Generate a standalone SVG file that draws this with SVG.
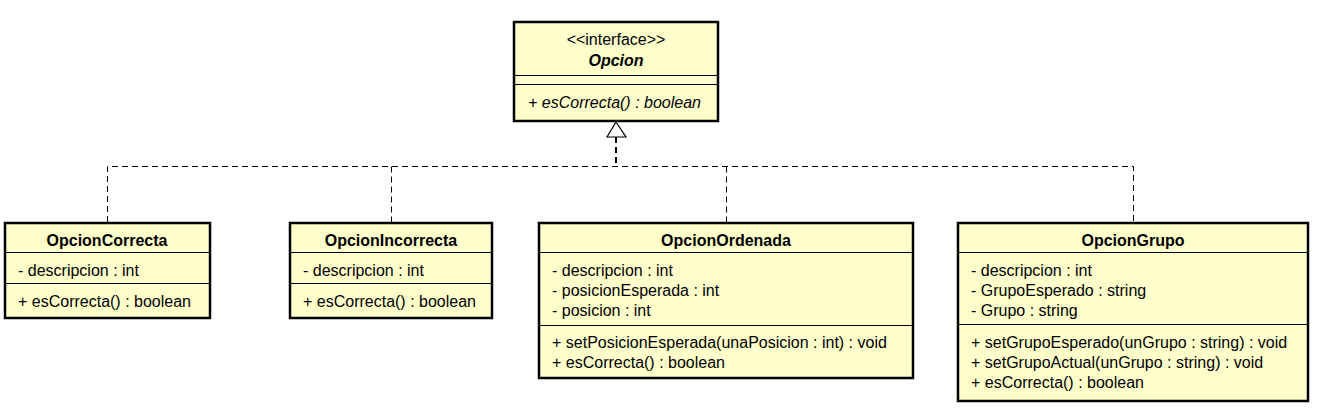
<svg xmlns="http://www.w3.org/2000/svg" width="1319" height="411" viewBox="0 0 1319 411">
<style>
.box{fill:#ffffcc;stroke:#000;stroke-width:2.5}
.div{stroke:#000;stroke-width:1}
.t{font-family:"Liberation Sans",Arial,sans-serif;font-size:16px;fill:#000}
.b{font-weight:bold}
.c{text-anchor:middle}
.i{font-style:italic}
.dash{fill:none;stroke:#000;stroke-width:1;stroke-dasharray:6 4}
</style>
<rect width="1319" height="411" fill="#fff"/>
<g id="connectors">
<path class="dash" d="M107.5 222 V166.5 H1133.5 V222"/>
<path class="dash" d="M391.5 166.5 V222"/>
<path class="dash" d="M726.5 166.5 V222"/>
<path class="dash" style="stroke-width:2" d="M616 137 V166"/>
<polygon points="616,122 607,137 626,137" fill="#fff" stroke="#000" stroke-width="1.2"/>
</g>
<g id="Opcion">
<rect class="box" x="514" y="22" width="204" height="99"/>
<line class="div" x1="514" y1="75.5" x2="718" y2="75.5"/>
<line class="div" x1="514" y1="84.5" x2="718" y2="84.5"/>
<text class="t c" x="616" y="45">&lt;&lt;interface&gt;&gt;</text>
<text class="t c b i" x="616" y="66">Opcion</text>
<text class="t i" x="528" y="108">+ esCorrecta() : boolean</text>
</g>
<g id="OpcionCorrecta">
<rect class="box" x="5" y="223" width="205" height="95"/>
<line class="div" x1="5" y1="252.5" x2="210" y2="252.5"/>
<line class="div" x1="5" y1="283.5" x2="210" y2="283.5"/>
<text class="t c b" x="107" y="246">OpcionCorrecta</text>
<text class="t" x="18" y="276">- descripcion : int</text>
<text class="t" x="18" y="307">+ esCorrecta() : boolean</text>
</g>
<g id="OpcionIncorrecta">
<rect class="box" x="290" y="223" width="202" height="95"/>
<line class="div" x1="290" y1="252.5" x2="492" y2="252.5"/>
<line class="div" x1="290" y1="283.5" x2="492" y2="283.5"/>
<text class="t c b" x="391" y="246">OpcionIncorrecta</text>
<text class="t" x="303" y="276">- descripcion : int</text>
<text class="t" x="303" y="307">+ esCorrecta() : boolean</text>
</g>
<g id="OpcionOrdenada">
<rect class="box" x="539" y="223" width="374" height="155"/>
<line class="div" x1="539" y1="252.5" x2="913" y2="252.5"/>
<line class="div" x1="539" y1="325.5" x2="913" y2="325.5"/>
<text class="t c b" x="726" y="246">OpcionOrdenada</text>
<text class="t" x="552" y="276">- descripcion : int</text>
<text class="t" x="552" y="296">- posicionEsperada : int</text>
<text class="t" x="552" y="316">- posicion : int</text>
<text class="t" x="552" y="348">+ setPosicionEsperada(unaPosicion : int) : void</text>
<text class="t" x="552" y="368">+ esCorrecta() : boolean</text>
</g>
<g id="OpcionGrupo">
<rect class="box" x="958" y="223" width="350" height="178"/>
<line class="div" x1="958" y1="252.5" x2="1308" y2="252.5"/>
<line class="div" x1="958" y1="324.5" x2="1308" y2="324.5"/>
<text class="t c b" x="1133" y="246">OpcionGrupo</text>
<text class="t" x="971" y="276">- descripcion : int</text>
<text class="t" x="971" y="296">- GrupoEsperado : string</text>
<text class="t" x="971" y="316">- Grupo : string</text>
<text class="t" x="971" y="348">+ setGrupoEsperado(unGrupo : string) : void</text>
<text class="t" x="971" y="368">+ setGrupoActual(unGrupo : string) : void</text>
<text class="t" x="971" y="388">+ esCorrecta() : boolean</text>
</g>
</svg>
